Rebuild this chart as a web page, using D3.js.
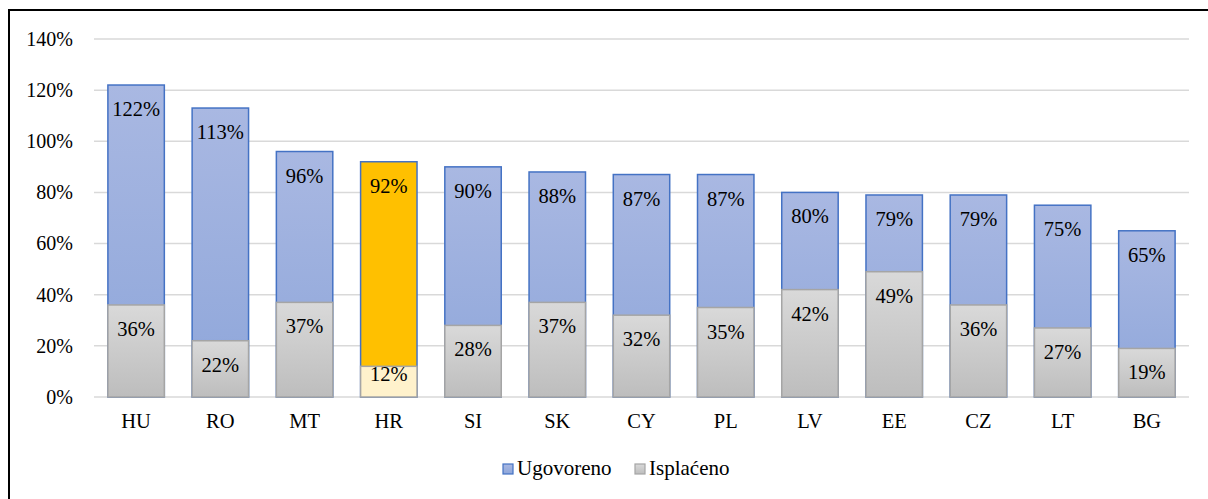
<!DOCTYPE html>
<html>
<head>
<meta charset="utf-8">
<script src="https://cdn.jsdelivr.net/npm/d3@7"></script>
<style>
  body { margin: 0; background: #fff; }
  svg { display: block; }
  svg text { font-family: "Liberation Serif", "Times New Roman", Tinos, "DejaVu Serif", serif; }
</style>
</head>
<body>
<div class="chart"></div>
<script>
const countries = ["HU", "RO", "MT", "HR", "SI", "SK", "CY", "PL", "LV", "EE", "CZ", "LT", "BG"];
const ugovoreno = [122, 113, 96, 92, 90, 88, 87, 87, 80, 79, 79, 75, 65];
const isplaceno = [36, 22, 37, 12, 28, 37, 32, 35, 42, 49, 36, 27, 19];
const yTicks = [0, 20, 40, 60, 80, 100, 120, 140];
const highlight = "HR";

const width = 1208, height = 499;
const plot = { left: 94, right: 1189, top: 39, bottom: 397 };

const data = countries.map((c, i) => ({ c, u: ugovoreno[i], p: isplaceno[i] }));

const svg = d3.select(".chart").append("svg")
  .attr("width", width)
  .attr("height", height);

// gradients
const defs = svg.append("defs");
function grad(id, top, bottom) {
  const g = defs.append("linearGradient").attr("id", id)
    .attr("x1", 0).attr("y1", 0).attr("x2", 0).attr("y2", 1);
  g.append("stop").attr("offset", "0%").attr("stop-color", top);
  g.append("stop").attr("offset", "100%").attr("stop-color", bottom);
}
grad("blueGrad", "#a9b8e2", "#8ea6da");
grad("grayGrad", "#d9d9d9", "#bdbdbd");

// outer frame
svg.append("rect")
  .attr("x", 9).attr("y", 10)
  .attr("width", 1220).attr("height", 520)
  .attr("fill", "none").attr("stroke", "#000").attr("stroke-width", 2);

const x = d3.scaleBand()
  .domain(countries)
  .range([plot.left, plot.right])
  .paddingInner(0.33)
  .paddingOuter(0.165);

const y = d3.scaleLinear().domain([0, 140]).range([plot.bottom, plot.top]);

// gridlines
svg.append("g").selectAll("line")
  .data(yTicks)
  .enter()
  .append("line")
  .attr("x1", plot.left).attr("x2", plot.right)
  .attr("y1", d => y(d)).attr("y2", d => y(d))
  .attr("stroke", "#d9d9d9").attr("stroke-width", 1.5);

const labelFont = "20.5px";

// y axis labels
const yAxis = d3.axisLeft(y).tickValues(yTicks).tickFormat(d => d + "%").tickSize(0).tickPadding(21);
svg.append("g")
  .attr("transform", `translate(${plot.left},0)`)
  .call(yAxis)
  .attr("font-family", null)
  .call(g => g.select(".domain").remove())
  .selectAll("text")
  .attr("font-size", "20px")
  .attr("fill", "#000");

// ugovoreno bars
svg.append("g").selectAll("rect")
  .data(data)
  .enter()
  .append("rect")
  .attr("x", d => x(d.c))
  .attr("y", d => y(d.u))
  .attr("width", x.bandwidth())
  .attr("height", d => y(0) - y(d.u))
  .attr("fill", d => d.c === highlight ? "#ffc000" : "url(#blueGrad)")
  .attr("stroke", "#4472c4")
  .attr("stroke-width", 1.5);

// isplaceno bars
svg.append("g").selectAll("rect")
  .data(data)
  .enter()
  .append("rect")
  .attr("x", d => x(d.c))
  .attr("y", d => y(d.p))
  .attr("width", x.bandwidth())
  .attr("height", d => y(0) - y(d.p))
  .attr("fill", d => d.c === highlight ? "#fff2cc" : "url(#grayGrad)")
  .attr("stroke", "#a5a5a5")
  .attr("stroke-width", 1.5);

// value labels
svg.append("g").selectAll("text")
  .data(data)
  .enter()
  .append("text")
  .attr("x", d => x(d.c) + x.bandwidth() / 2)
  .attr("y", d => y(d.u) + 31)
  .attr("text-anchor", "middle")
  .attr("font-size", labelFont)
  .text(d => d.u + "%");

svg.append("g").selectAll("text")
  .data(data)
  .enter()
  .append("text")
  .attr("x", d => x(d.c) + x.bandwidth() / 2)
  .attr("y", d => Math.min(y(d.p) + 31, y(0) - 16))
  .attr("text-anchor", "middle")
  .attr("font-size", labelFont)
  .text(d => d.p + "%");

// x axis labels
svg.append("g").selectAll("text")
  .data(countries)
  .enter()
  .append("text")
  .attr("x", d => x(d) + x.bandwidth() / 2)
  .attr("y", 428)
  .attr("text-anchor", "middle")
  .attr("font-size", labelFont)
  .text(d => d);

// legend
const legendItems = [
  { name: "Ugovoreno", fill: "url(#blueGrad)", stroke: "#4472c4", x: 503 },
  { name: "Isplaćeno", fill: "url(#grayGrad)", stroke: "#a5a5a5", x: 635 }
];
const legend = svg.append("g");
legend.selectAll("rect")
  .data(legendItems)
  .enter()
  .append("rect")
  .attr("x", d => d.x)
  .attr("y", 464)
  .attr("width", 10)
  .attr("height", 10)
  .attr("fill", d => d.fill)
  .attr("stroke", d => d.stroke)
  .attr("stroke-width", 1.2);
legend.selectAll("text")
  .data(legendItems)
  .enter()
  .append("text")
  .attr("x", d => d.x + 14)
  .attr("y", 475)
  .attr("font-size", "21px")
  .text(d => d.name);
</script>
</body>
</html>
